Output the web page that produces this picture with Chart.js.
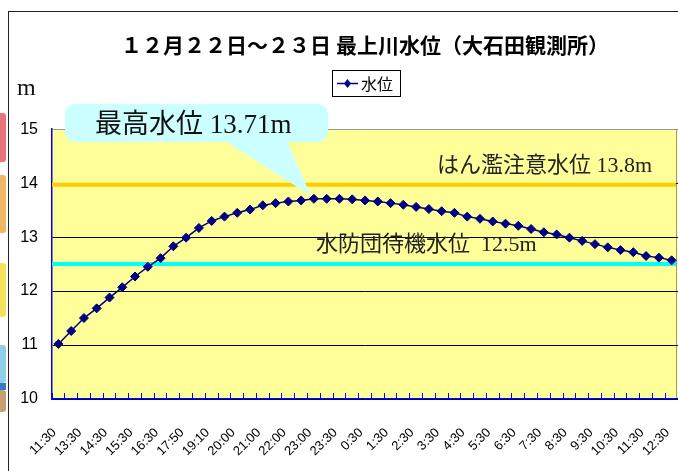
<!DOCTYPE html>
<html>
<head>
<meta charset="utf-8">
<script src="https://cdn.jsdelivr.net/npm/chart.js@4.4.1/dist/chart.umd.min.js"></script>
<style>
    html, body { margin: 0; padding: 0; background: #fff; }
    #wrap { position: relative; width: 678px; height: 471px; overflow: hidden; }
    #frame { position: absolute; left: 8px; top: 11px; width: 700px; height: 500px;
             border-left: 1.5px solid #222; border-top: 1.5px solid #222; }
    .strip { position: absolute; left: 0; width: 6px; border-radius: 0 3px 3px 0; }
    #chart { position: absolute; left: 0; top: 0; }
</style>
</head>
<body>
<div id="wrap">
    <div class="strip" style="top:113px;height:49px;background:#e8737a"></div>
    <div class="strip" style="top:175px;height:58px;background:#f2b766"></div>
    <div class="strip" style="top:263px;height:54px;background:#f6e15a"></div>
    <div class="strip" style="top:345px;height:38px;background:#8fd0e8"></div>
    <div class="strip" style="top:383px;height:7px;background:#3c78c8;border-radius:0"></div>
    <div class="strip" style="top:390px;height:22px;background:#c8a070"></div>
    <div id="frame"></div>
    <canvas id="chart" width="678" height="471"></canvas>
</div>
<script>
const titleText = '１２月２２日～２３日 最上川水位（大石田観測所）';
const seriesName = '水位';

// labels under every second point
const tickLabels = ['11:30', '13:30', '14:30', '15:30', '16:30', '17:50', '19:10', '20:00', '21:00',
    '22:00', '23:00', '23:30', '0:30', '1:30', '2:30', '3:30', '4:30', '5:30', '6:30', '7:30',
    '8:30', '9:30', '10:30', '11:30', '12:30'];

const levels = [11.02, 11.26, 11.50, 11.68, 11.88, 12.07, 12.27, 12.45, 12.61, 12.83,
    12.99, 13.17, 13.30, 13.38, 13.45, 13.51, 13.59, 13.63, 13.66, 13.68,
    13.71, 13.71, 13.71, 13.70, 13.68, 13.66, 13.63, 13.60, 13.56, 13.52,
    13.48, 13.45, 13.38, 13.34, 13.29, 13.25, 13.21, 13.15, 13.09, 13.05,
    12.99, 12.93, 12.87, 12.81, 12.76, 12.72, 12.65, 12.62, 12.57];

const yTicks = [10, 11, 12, 13, 14, 15];

// reference lines: drawn level, colour, caption
const refLevels = [13.97, 12.5];
const refColors = ['#FFCC00', '#00FFFF'];
const refCaptions = ['はん濫注意水位 13.8m', '水防団待機水位  12.5m'];

const peakCaption = '最高水位 13.71m';

const categories = levels.map((v, i) => (i % 2 === 0 ? tickLabels[i / 2] : ''));

const serif = '"Liberation Serif", "Noto Sans CJK JP", serif';

const decorPlugin = {
    id: 'decor',
    beforeDraw(chart) {
        const { ctx, chartArea: a } = chart;
        ctx.save();
        ctx.fillStyle = '#FFFF99';
        ctx.fillRect(a.left, a.top, a.right - a.left, a.bottom - a.top);
        ctx.strokeStyle = '#999';
        ctx.lineWidth = 1;
        ctx.beginPath();
        ctx.moveTo(a.right - 1.5, a.top);
        ctx.lineTo(a.right - 1.5, a.bottom);
        ctx.stroke();
        ctx.restore();
    },
    beforeDatasetsDraw(chart) {
        const { ctx, chartArea: a, scales } = chart;
        ctx.save();
        refLevels.forEach((lv, i) => {
            const y = scales.y.getPixelForValue(lv);
            ctx.strokeStyle = refColors[i];
            ctx.lineWidth = 4;
            ctx.beginPath();
            ctx.moveTo(a.left, y);
            ctx.lineTo(a.right - 2, y);
            ctx.stroke();
        });
        ctx.fillStyle = '#222';
        ctx.font = '22px ' + serif;
        ctx.textBaseline = 'middle';
        ctx.fillText(refCaptions[0], 437, 166);
        ctx.fillText(refCaptions[1], 316, 245);
        ctx.restore();
    },
    afterDatasetsDraw(chart) {
        const { ctx, scales } = chart;
        // callout pointing at the highest point
        let peak = 0;
        levels.forEach((v, i) => { if (v > levels[peak]) peak = i; });
        const px = scales.x.getPixelForValue(peak) - 3;
        const py = scales.y.getPixelForValue(levels[peak]) - 3;
        ctx.save();
        ctx.fillStyle = '#CCFFFF';
        ctx.beginPath();
        ctx.roundRect(65, 104, 263, 38, 10);
        ctx.fill();
        ctx.beginPath();
        ctx.moveTo(225, 141);
        ctx.lineTo(287, 141);
        ctx.lineTo(px, py);
        ctx.closePath();
        ctx.fill();
        ctx.fillStyle = '#111';
        ctx.font = '27px ' + serif;
        ctx.textBaseline = 'middle';
        ctx.fillText(peakCaption, 95, 126);

        // unit
        ctx.font = '24px ' + serif;
        ctx.textBaseline = 'alphabetic';
        ctx.fillText('m', 17, 95);

        // legend box
        ctx.fillStyle = '#fff';
        ctx.fillRect(332, 70, 68, 26);
        ctx.strokeStyle = '#000';
        ctx.lineWidth = 1;
        ctx.strokeRect(332.5, 70.5, 68, 26);
        ctx.strokeStyle = '#000080';
        ctx.lineWidth = 1.5;
        ctx.beginPath();
        ctx.moveTo(337, 83.5);
        ctx.lineTo(358, 83.5);
        ctx.stroke();
        ctx.fillStyle = '#000080';
        ctx.beginPath();
        ctx.moveTo(347.5, 79);
        ctx.lineTo(351, 83.5);
        ctx.lineTo(347.5, 88);
        ctx.lineTo(344, 83.5);
        ctx.closePath();
        ctx.fill();
        ctx.fillStyle = '#000';
        ctx.font = '16px "Noto Sans CJK JP"';
        ctx.textBaseline = 'middle';
        ctx.fillText(chart.data.datasets[0].label, 361, 84);
        ctx.restore();
    }
};

new Chart(document.getElementById('chart'), {
    type: 'line',
    data: {
        labels: categories,
        datasets: [{
            label: seriesName,
            data: levels,
            borderColor: '#000080',
            backgroundColor: '#000080',
            borderWidth: 1.5,
            pointStyle: 'rectRot',
            pointRadius: 4.5,
            pointBackgroundColor: '#000080',
            pointBorderColor: '#000080',
            pointBorderWidth: 1,
            tension: 0
        }]
    },
    options: {
        responsive: false,
        animation: false,
        layout: { autoPadding: false, padding: 0 },
        plugins: {
            legend: { display: false },
            tooltip: { enabled: false },
            title: {
                display: true,
                fullSize: false,
                text: titleText,
                color: '#000',
                font: { family: '"Noto Sans CJK JP"', size: 21, weight: 'bold' },
                padding: { top: 32, bottom: 72 }
            }
        },
        scales: {
            x: {
                offset: true,
                grid: {
                    display: true,
                    drawOnChartArea: false,
                    drawTicks: true,
                    tickLength: -6,
                    color: '#0000FF',
                    offset: true
                },
                border: { color: '#0000FF', width: 1.5 },
                ticks: {
                    autoSkip: false,
                    minRotation: 45,
                    maxRotation: 45,
                    padding: 32,
                    labelOffset: -4,
                    color: '#000',
                    font: { family: '"Liberation Sans", Arial', size: 13 }
                },
                afterFit(s) {
                    s.height = 72;
                    s.paddingLeft = 0;
                    s.paddingRight = 0;
                }
            },
            y: {
                min: 10,
                max: 15,
                afterBuildTicks(s) { s.ticks = yTicks.map(v => ({ value: v })); },
                grid: {
                    drawTicks: false,
                    color: ctx => (ctx.tick && ctx.tick.value === 15 ? '#999' : '#000'),
                    lineWidth: 1
                },
                border: { color: '#0000FF', width: 1.5 },
                ticks: {
                    padding: 14,
                    color: '#000',
                    font: { family: '"Liberation Sans Narrow", "Liberation Sans"', size: 16 }
                },
                afterFit(s) { s.width = 52; }
            }
        }
    },
    plugins: [decorPlugin]
});
</script>
</body>
</html>
